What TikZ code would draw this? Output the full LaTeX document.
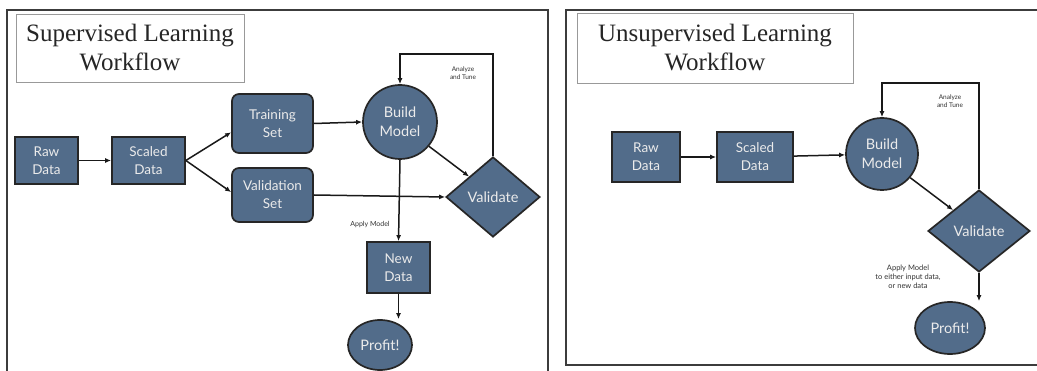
\documentclass[tikz,border=0pt]{standalone}
\usepackage{fontspec}
\newfontfamily\boxfont{Lato}
\newfontfamily\titlefont{Liberation Serif}
\usetikzlibrary{shapes.geometric,arrows.meta}
\definecolor{boxblue}{RGB}{82,108,138}
\definecolor{framegray}{RGB}{60,60,60}
\tikzset{
  blk/.style={draw=black!85, line width=1.7pt, fill=boxblue, text=white!92!black,
    font=\boxfont\fontsize{13.5}{18}\selectfont, align=center, inner sep=0pt},
  sqbox/.style={blk, rectangle},
  rbox/.style={blk, rectangle, rounded corners=7pt},
  circ/.style={blk, circle, font=\boxfont\fontsize{14.5}{19}\selectfont},
  dia/.style={blk, diamond, font=\boxfont\fontsize{14.5}{19}\selectfont},
  ell/.style={blk, ellipse, font=\boxfont\fontsize{14.5}{19}\selectfont},
  conn/.style={line width=1.5pt, draw=black!90, -{Latex[length=6pt,width=5pt]}},
  lbl/.style={font=\boxfont\fontsize{6.5}{7.5}\selectfont, align=center, text=black!80},
  titlebox/.style={draw=black!40, line width=0.6pt, fill=white, align=center,
    font=\titlefont\fontsize{25}{29}\selectfont, text=black!85},
  frame/.style={draw=framegray, line width=1.3pt}
}
\begin{document}
\begin{tikzpicture}[x=1pt,y=-1pt]
\useasboundingbox (0,0) rectangle (1037,371);
\fill[white] (0,0) rectangle (1037,371);
% frames
\draw[frame] (7,371) -- (7,10) -- (548,10) -- (548,371);
\draw[frame] (1037,10) -- (566,10) -- (566,365) -- (1037,365);
% ---------------- left panel ----------------
\node[titlebox, minimum width=228pt, minimum height=68pt] (titleL) at (130,48) {Supervised Learning\\Workflow};
\node[sqbox, minimum width=63pt, minimum height=47pt] (rawL) at (46.5,160.5) {Raw\\Data};
\node[sqbox, minimum width=73pt, minimum height=47pt] (scaledL) at (148.5,160.5) {Scaled\\Data};
\node[rbox, minimum width=81pt, minimum height=59pt] (trainL) at (272.5,123.5) {Training\\Set};
\node[rbox, minimum width=81pt, minimum height=54pt] (valsetL) at (272.5,195) {Validation\\Set};
\node[circ, minimum size=74pt] (buildL) at (400,122) {Build\\Model};
\node[dia, minimum width=94pt, minimum height=80pt, aspect=1.175] (valL) at (493,197) {Validate};
\node[sqbox, minimum width=63pt, minimum height=51pt] (newL) at (398.5,267.5) {New\\Data};
\node[ell, minimum width=64pt, minimum height=50pt] (profitL) at (380,345) {Profit!};
\coordinate (topL) at (0,54);
\draw[conn] (rawL) -- (scaledL);
\draw[conn] (scaledL.east) -- (trainL.192);
\draw[conn] (scaledL.east) -- (valsetL.176);
\draw[conn] (trainL.east) -- (buildL.west);
\draw[conn] (buildL.-40) -- (valL.north west);
\draw[conn] (valsetL.east) -- (valL.west);
\draw[conn] (valL.north) |- (buildL.north |- topL) -- (buildL.north);
\draw[conn] (buildL.south) -- (newL.north);
\draw[conn] (newL.south) -- (newL.south |- profitL.north);
\node[lbl] (tuneL) at (463,73) {Analyze\\and Tune};
\node[lbl, font=\boxfont\fontsize{7}{8}\selectfont] (applyL) at (370,225) {Apply Model};
% ---------------- right panel ----------------
\node[titlebox, minimum width=276pt, minimum height=70pt] (titleR) at (715,48) {Unsupervised Learning\\Workflow};
\node[sqbox, minimum width=68pt, minimum height=50pt] (rawR) at (646,157) {Raw\\Data};
\node[sqbox, minimum width=76pt, minimum height=50pt] (scaledR) at (755,157) {Scaled\\Data};
\node[circ, minimum size=72pt] (buildR) at (882,154) {Build\\Model};
\node[dia, minimum width=102pt, minimum height=82pt, aspect=1.24] (valR) at (979,231) {Validate};
\node[ell, minimum width=70pt, minimum height=52pt] (profitR) at (950,328) {Profit!};
\coordinate (topR) at (0,83);
\draw[conn] (rawR) -- (scaledR);
\draw[conn] (scaledR) -- (buildR);
\draw[conn] (buildR.-40) -- (valR.north west);
\draw[conn] (valR.north) |- (buildR.north |- topR) -- (buildR.north);
\draw[conn] (valR.south) -- (valR.south |- profitR.north);
\node[lbl] (tuneR) at (950,101) {Analyze\\and Tune};
\node[lbl, font=\boxfont\fontsize{7.5}{9}\selectfont] (applyR) at (908,277) {Apply Model\\to either input data,\\or new data};
\end{tikzpicture}
\end{document}
